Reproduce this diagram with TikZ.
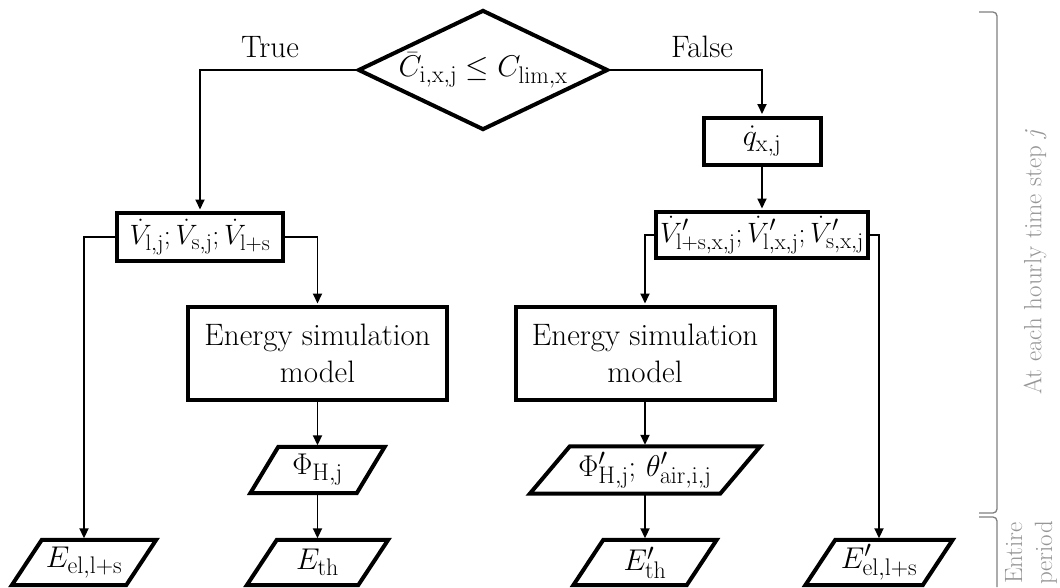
\RequirePackage{fix-cm}
\documentclass[tikz,border=0pt]{standalone}
\usetikzlibrary{arrows.meta,shapes.geometric}
\DeclareMathSizes{30}{30}{24}{19}
\DeclareMathSizes{28}{28}{22.4}{18}
\definecolor{brgray}{RGB}{128,128,128}
\definecolor{txgray}{RGB}{150,150,150}
\begin{document}
\begin{tikzpicture}[x=1pt,y=-1pt,
  tfont/.style={font=\fontsize{31}{37}\selectfont},
  mfont/.style={font=\fontsize{30}{36}\selectfont},
  sfont/.style={font=\fontsize{28}{34}\selectfont},
  box/.style={draw, line width=4pt, inner xsep=4pt, inner ysep=0pt, mfont},
  ebox/.style={draw, line width=4pt, inner sep=0pt, tfont, align=center},
  pbox/.style={draw=none, inner sep=0pt, mfont},
  pline/.style={line width=4pt, line join=miter},
  conn/.style={line width=1.9pt, -{Triangle[length=10pt,width=9pt]}, shorten >=1.5pt},
  brace/.style={draw=brgray, line width=1.3pt, rounded corners=4pt},
  side/.style={text=txgray, rotate=90, font=\fontsize{25}{30}\selectfont, align=center}
]
\useasboundingbox (0,0) rectangle (1060,587);

% decision
\node[box, inner sep=0pt, shape=diamond, minimum width=250pt, minimum height=120pt, aspect=2] (dec) at (483,70)
  {$\bar{C}_{\mathrm{i{,}x{,}j}}\leq C_{\mathrm{lim{,}x}}$};
\node[tfont] (lblT) at (270,47) {True};
\node[tfont] (lblF) at (702,47) {False};

% boxes
\node[box, minimum width=117pt, minimum height=47pt] (q) at (762,141) {$\dot{q}_{\mathrm{x{,}j}}$};
\node[box, sfont, minimum width=166pt, minimum height=48pt] (V) at (200,237)
  {$\dot{V}_{\mathrm{l{,}j}};\dot{V}_{\mathrm{s{,}j}};\dot{V}_{\mathrm{l{+}s}}$};
\node[box, sfont, minimum width=212pt, minimum height=46pt] (Vp) at (762,235)
  {$\dot{V}'_{\mathrm{l{+}s{,}x{,}j}};\dot{V}'_{\mathrm{l{,}x{,}j}};\dot{V}'_{\mathrm{s{,}x{,}j}}$};
\node[ebox, minimum width=259pt, minimum height=93pt] (EnL) at (317.5,353.5) {Energy simulation\\model};
\node[ebox, minimum width=259pt, minimum height=93pt] (EnR) at (645,353.5) {Energy simulation\\model};

% parallelograms (text nodes)
\node[pbox, minimum width=106pt, minimum height=46pt] (PhiL) at (317.5,470) {$\Phi_{\mathrm{H{,}j}}$};
\node[pbox, minimum width=190pt, minimum height=47pt] (PhiR) at (645,470)
  {$\Phi'_{\mathrm{H{,}j}};\,\theta'_{\mathrm{air{,}i{,}j}}$};
\node[pbox, minimum width=114pt, minimum height=45pt] (EelL) at (84,562.5) {$E_{\mathrm{el{,}l{+}s}}$};
\node[pbox, minimum width=111pt, minimum height=45pt] (EthL) at (317.5,562.5) {$E_{\mathrm{th}}$};
\node[pbox, minimum width=113pt, minimum height=45pt] (EthR) at (645,562.5) {$E'_{\mathrm{th}}$};
\node[pbox, minimum width=117pt, minimum height=45pt] (EelR) at (879,562.5) {$E'_{\mathrm{el{,}l{+}s}}$};

\foreach \n/\s in {PhiL/28, PhiR/40, EelL/30, EthL/30, EthR/30, EelR/30}{
  \draw[pline] ([xshift=\s/2]\n.north west) -- ([xshift=\s/2]\n.north east)
    -- ([xshift=-\s/2]\n.south east) -- ([xshift=-\s/2]\n.south west) -- cycle;
}

% connectors
\draw[conn] (dec.west) -| (V.north);
\draw[conn] (dec.east) -| (q.north);
\draw[conn] (q.south) -- (Vp.north);
\draw[conn] (V.west) -| (EelL.north);
\draw[conn] (V.east) -| (EnL.north);
\draw[conn] (Vp.west) -| (EnR.north);
\draw[conn] (Vp.east) -| (EelR.north);
\draw[conn] (EnL.south) -- (PhiL.north);
\draw[conn] (PhiL.south) -- (EthL.north);
\draw[conn] (EnR.south) -- (PhiR.north);
\draw[conn] (PhiR.south) -- (EthR.north);

% side braces and labels
\draw[brace] (979,12) -- (997,12) -- (997,513) -- (979,513);
\draw[brace] (979,517) -- (997,517) -- (997,587);
\node[side] (tAt) at (1035,262) {At each hourly time step \textit{j}};
\node[side] (tEnt) at (1031,553) {Entire\\period};
\end{tikzpicture}
\end{document}
